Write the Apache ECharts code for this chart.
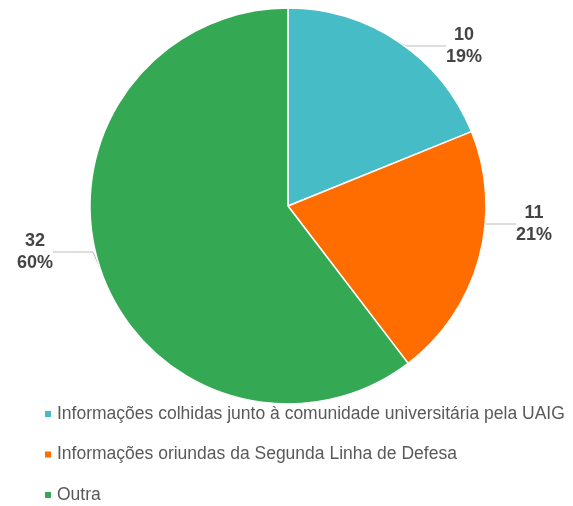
<!DOCTYPE html>
<html>
<head>
    <meta charset="utf-8">
    <title>Pie</title>
    <script src="https://cdn.jsdelivr.net/npm/echarts@6/dist/echarts.min.js"></script>
    <style>
        html, body { margin: 0; padding: 0; background: #fff; }
        #main { width: 573px; height: 506px; }
    </style>
</head>
<body>
    <div id="main"></div>
    <script type="text/javascript">
        var categories = [
            'Informações colhidas junto à comunidade universitária pela UAIG',
            'Informações oriundas da Segunda Linha de Defesa',
            'Outra'
        ];
        var values = [10, 11, 32];
        var colors = ['#46BDC6', '#FF6D01', '#34A853'];

        var pieData = [];
        for (var i = 0; i < categories.length; i++) {
            pieData.push({ name: categories[i], value: values[i], itemStyle: { color: colors[i] } });
        }

        // where each label block sits (centre)
        var labelPos = [[464, 46], [534, 224], [35, 252]];

        var myChart = echarts.init(document.getElementById('main'));
        myChart.setOption({
            animation: false,
            textStyle: { fontFamily: 'Liberation Sans, Arial, sans-serif' },
            legend: {
                orient: 'vertical',
                left: 43,
                top: 405,
                height: 101,
                padding: 0,
                icon: 'rect',
                itemWidth: 8,
                itemHeight: 8,
                itemGap: 22.5,
                textStyle: { fontSize: 17.5, color: '#595959', fontFamily: 'Liberation Sans, Arial, sans-serif' },
                data: categories
            },
            series: [{
                type: 'pie',
                center: [288, 206],
                radius: [0, 198],
                startAngle: 90,
                clockwise: true,
                percentPrecision: 0,
                itemStyle: { borderColor: '#fff', borderWidth: 1.5 },
                label: {
                    formatter: '{c}\n{d}%',
                    fontSize: 18,
                    fontWeight: 'bold',
                    color: '#444',
                    lineHeight: 22,
                    align: 'center',
                    overflow: 'none',
                    fontFamily: 'Liberation Sans, Arial, sans-serif'
                },
                labelLine: {
                    length: 8,
                    length2: 40,
                    lineStyle: { color: '#bbb', width: 1 }
                },
                labelLayout: function (params) {
                    var p = labelPos[params.dataIndex];
                    return { x: p[0], y: p[1], align: 'center', verticalAlign: 'middle' };
                },
                data: pieData
            }]
        });
    </script>
</body>
</html>
